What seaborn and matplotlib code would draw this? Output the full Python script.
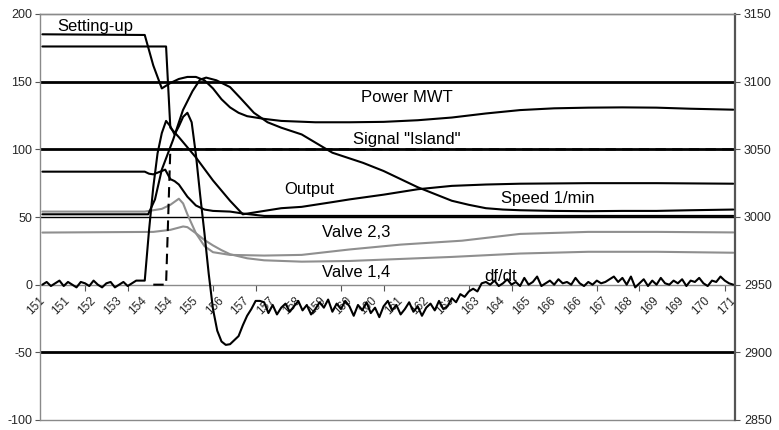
import numpy as np
import pandas as pd
import matplotlib
matplotlib.use("Agg")
import matplotlib.pyplot as plt
import matplotlib.transforms as mtransforms
import seaborn as sns

# ---------------- data ----------------
tick_labels = ["151", "151", "152", "153", "154", "154", "155", "156", "157", "157",
               "158", "159", "160", "160", "161", "162", "163", "163", "164", "165",
               "166", "166", "167", "168", "169", "169", "170", "171"]
label_positions = [151 + 0.75 * k for k in range(len(tick_labels))]
minor_positions = [151 + 1.25 * k for k in range(17)]

# df/dt sampled every 0.125 s from 151.0
dfdt = [0, 2, -1, 1, 3, -1, 2, 0, -2, 2, 1, -1, 3, 0, -2, 1, 2, -2, 0, 2, -1, 1, 3, 3,
        3, 40, 72, 97, 112, 121, 117, 111, 117, 124, 127, 120, 96, 66, 38, 8, -18, -34,
        -42, -44.5, -44, -41, -38, -30, -23, -18, -12,
        -12, -13, -21, -15, -22, -17, -14, -20, -16, -12, -19, -15, -22, -18, -13, -17,
        -11, -20, -14, -18, -12, -16, -23, -15, -19, -13, -21, -17, -24, -16, -12, -19,
        -15, -22, -18, -13, -20, -16, -23, -17, -14, -19, -12, -18,
        -16, -10, -13, -7, -9, -5, -3, -5, 1, 2,
        0, 3, -1, 1, 4, 0, 2, -1, 5, 0, 2, 6, -1, 1, 3, 0, 4, 1, 2, 0, 5, 1, -1, 2, 0,
        3, 1, 2, 4, 6, 2, 5, 0, 6, -2, 1, 4, -1, 3, 0, 5, 1, 0, 3, 1, 4, -1, 3, 2, 5,
        1, -1, 3, 2, 6, 3, 1, 0]
dfdt_t = [151 + 0.125 * k for k in range(len(dfdt))]

power_t = [151, 154.0, 154.25, 154.5, 154.75, 155, 155.25, 155.5, 155.75, 156, 156.25,
           156.5, 156.75, 157, 157.5, 158, 158.5, 159, 160, 161, 162, 163, 164, 165,
           166, 167, 168, 169, 170, 171.25]
power_v = [185, 184.5, 162, 145, 149, 152, 153.5, 153.5, 151, 145, 137, 131, 127,
           124.5, 122.5, 121, 120.5, 120, 120, 120.3, 121.5, 123.5, 126.5, 129, 130.3,
           130.8, 131, 130.8, 130, 129.3]

setting_t = [151, 154.625, 154.75, 155, 155.5, 156, 156.5, 156.875, 157, 157.5, 158,
             158.6, 159.5, 160, 161, 162, 163, 164, 165, 167, 169, 171.25]
setting_v = [176, 176, 116, 109, 94, 77, 62, 52, 52.5, 54.5, 56.5, 57.5, 61, 63, 66.5,
             70.5, 73, 74, 74.6, 75, 75, 74.6]

output_t = [151, 154.0, 154.125, 154.25, 154.5, 154.6, 154.75, 154.875, 155, 155.25,
            155.5, 155.75, 156, 156.5, 156.9, 157.5, 171.25]
output_v = [83.5, 83.5, 82, 81.5, 84, 85, 78, 76.5, 74, 65, 58.5, 55.5, 54.5, 54, 52.5,
            50.8, 50.8]

island_t = [154.25, 154.625, 154.75, 171.25]
island_v = [0, 0, 100, 100]

speed_t = [151, 154.1, 154.3, 154.5, 154.83, 155.12, 155.4, 155.62, 155.8, 156.1,
           156.5, 156.8, 157.2, 157.6, 158, 158.6, 159.5, 160.4, 161, 161.5, 162,
           162.5, 163, 163.5, 164, 164.5, 165, 166, 167, 168, 169, 170, 171.25]
speed_v = [3002, 3002, 3013, 3035, 3057, 3079, 3093, 3101.5, 3103, 3101, 3096, 3088,
           3077, 3070, 3066, 3061, 3047.5, 3040, 3034, 3028, 3022, 3017, 3012, 3009,
           3006.5, 3005.5, 3005, 3004.5, 3004.3, 3004.5, 3004.5, 3005, 3005.5]

valve23_t = [151, 154.0, 154.5, 154.75, 155.0, 155.125, 155.25, 155.5, 155.75, 156,
             156.5, 157.5, 158.6, 160, 161.5, 163.3, 165, 167, 169, 171.25]
valve23_v = [54, 54, 56, 59, 63.5, 60, 52, 38, 28.5, 24, 22, 21.5, 22, 26, 29.6, 32.5,
             37.5, 39, 39, 38.6]

valve14_t = [151, 154.25, 154.75, 155.125, 155.25, 155.5, 155.75, 156, 156.25, 156.5,
             157, 157.5, 158.6, 160, 161.5, 163, 165, 167, 169, 171.25]
valve14_v = [38.5, 39, 40.5, 43, 42.5, 38, 33, 29, 25.5, 22.5, 19.5, 18, 17, 17.5, 19,
             20.5, 23, 24.3, 24.3, 23.6]

labels = {
    "Setting-up": (151.45, 190.5),
    "Power MWT": (160.35, 138.5),
    "Signal \"Island\"": (160.1, 107),
    "Output": (158.1, 70),
    "Speed 1/min": (164.45, 63.5),
    "Valve 2,3": (159.2, 38.4),
    "Valve 1,4": (159.2, 9),
    "df/dt": (163.95, 6),
}

# ---------------- style ----------------
sns.set_style("white")
plt.rcParams["font.family"] = ["Liberation Sans", "DejaVu Sans"]

W, H = 779, 430
fig = plt.figure(figsize=(W / 100, H / 100), dpi=100)
ax = fig.add_axes([40 / W, 10 / H, 695 / W, 406 / H])
ax2 = ax.twinx()

XMIN, XMAX = 150.93, 171.3
ax.set_xlim(XMIN, XMAX)
ax.set_ylim(-100, 200)
ax2.set_ylim(2850, 3150)

# grid lines
for yv, lw in [(150, 2.0), (100, 2.0), (-50, 2.0), (50, 1.0)]:
    ax.axhline(yv, color="black", lw=lw, zorder=1)
ax.axhline(-100, color="#8a8a8a", lw=1.0, zorder=1, clip_on=False)

black = "black"
gray = "#8f8f8f"
LW = 1.5

sns.lineplot(x=valve23_t, y=valve23_v, ax=ax, color=gray, lw=LW, sort=False, estimator=None, zorder=3)
sns.lineplot(x=valve14_t, y=valve14_v, ax=ax, color=gray, lw=LW, sort=False, estimator=None, zorder=3)
sns.lineplot(x=island_t, y=island_v, ax=ax, color=black, lw=LW, sort=False, estimator=None,
             zorder=4, linestyle=(0, (5, 3)))
sns.lineplot(x=power_t, y=power_v, ax=ax, color=black, lw=LW, sort=False, estimator=None, zorder=4)
sns.lineplot(x=setting_t, y=setting_v, ax=ax, color=black, lw=LW, sort=False, estimator=None, zorder=4)
sns.lineplot(x=output_t, y=output_v, ax=ax, color=black, lw=LW, sort=False, estimator=None, zorder=4)
sns.lineplot(x=dfdt_t, y=dfdt, ax=ax, color=black, lw=LW, sort=False, estimator=None, zorder=5)
sns.lineplot(x=speed_t, y=speed_v, ax=ax2, color=black, lw=LW, sort=False, estimator=None, zorder=4)

# spines
for a in (ax, ax2):
    a.spines["top"].set_color("#8a8a8a")
    a.spines["top"].set_linewidth(1.0)
    a.spines["bottom"].set_visible(False)
ax.spines["left"].set_color("#8a8a8a")
ax.spines["left"].set_linewidth(1.0)
ax.spines["right"].set_visible(False)
ax2.spines["left"].set_visible(False)
ax2.spines["right"].set_color("#555555")
ax2.spines["right"].set_linewidth(1.6)
ax.spines["bottom"].set_visible(True)
ax.spines["bottom"].set_position(("data", 0))
ax.spines["bottom"].set_color("#8a8a8a")
ax.spines["bottom"].set_linewidth(1.0)

# y ticks
ax.set_yticks([-100, -50, 0, 50, 100, 150, 200])
ax.set_yticklabels(["-100", "-50", "0", "50", "100", "150", "200"])
ax2.set_yticks([2850, 2900, 2950, 3000, 3050, 3100, 3150])
ax.tick_params(axis="y", direction="out", length=3.5, width=0.8, color="#555555",
               labelsize=9, pad=2, left=True)
ax2.tick_params(axis="y", direction="out", length=3.5, width=0.8, color="#555555",
                labelsize=9, pad=3, right=True)

# x ticks
ax.set_xticks(label_positions)
ax.set_xticklabels(tick_labels, rotation=45, ha="right", va="top", rotation_mode="anchor")
ax.set_xticks(minor_positions, minor=True)
ax.tick_params(axis="x", which="major", length=0, labelsize=8.5, pad=7, bottom=True)
ax.tick_params(axis="x", which="minor", length=4, width=0.8, color="#555555",
               direction="out", bottom=True)
offset = mtransforms.ScaledTranslation(-4 / 100, 0, fig.dpi_scale_trans)
for lab in ax.get_xticklabels():
    lab.set_transform(lab.get_transform() + offset)

ax.set_xlabel("")
ax.set_ylabel("")
ax2.set_ylabel("")

for txt, (tx, ty) in labels.items():
    ax.text(tx, ty, txt, fontsize=12, ha="left", va="center", color="black", zorder=6)

fig.savefig("out.png", dpi=100)
